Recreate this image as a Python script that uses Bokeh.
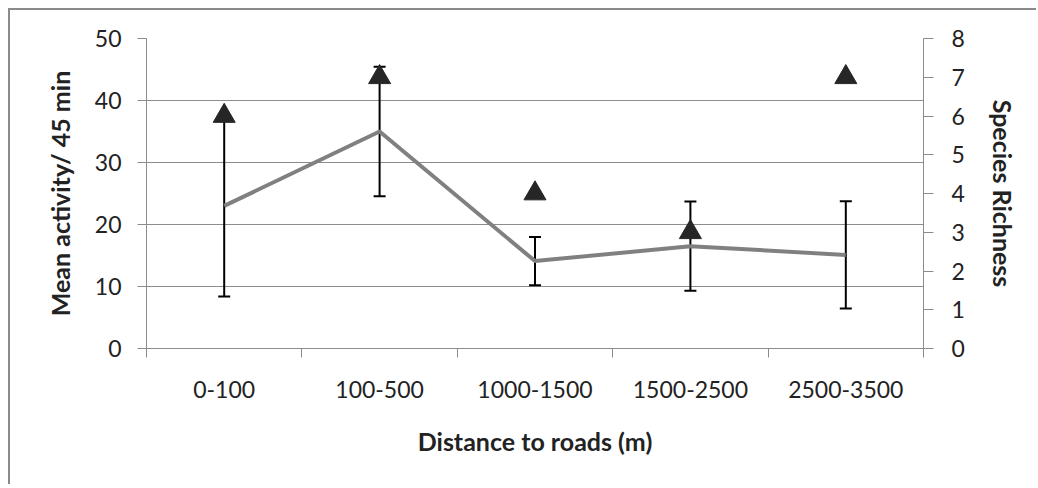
from bokeh.plotting import figure
from bokeh.models import Range1d, LinearAxis, FixedTicker, Whisker, ColumnDataSource, TeeHead
from bokeh.embed import file_html
from bokeh.resources import INLINE

categories = ["0-100", "100-500", "1000-1500", "1500-2500", "2500-3500"]
mean_activity = [23.0, 35.0, 14.1, 16.5, 15.1]
activity_err = [14.6, 10.45, 3.9, 7.2, 8.65]
species_richness = [6, 7, 4, 3, 7]

xs = [i + 0.5 for i in range(len(categories))]
src = ColumnDataSource(dict(
    x=xs,
    y=mean_activity,
    upper=[m + e for m, e in zip(mean_activity, activity_err)],
    lower=[m - e for m, e in zip(mean_activity, activity_err)],
    rich=species_richness,
))

FONT = "Lato"
TXT = "#222222"
GRID = "#8c8c8c"
TICK_FS = "23px"
TITLE_FS = "25px"

p = figure(
    frame_width=777, frame_height=310,
    min_border_left=136, min_border_right=113, min_border_top=28, min_border_bottom=136,
    x_range=Range1d(0, len(categories)), y_range=Range1d(0, 50),
    output_backend="svg", toolbar_location=None,
    styles={"margin-left": "8px", "margin-top": "8px",
            "border-left": "2px solid #8a8a8a", "border-top": "2px solid #8a8a8a"},
)
p.outline_line_color = None
p.background_fill_color = "white"
p.border_fill_color = "white"
p.xgrid.visible = False
p.ygrid.grid_line_color = GRID
p.ygrid.grid_line_width = 1
p.ygrid.ticker = FixedTicker(ticks=[0, 10, 20, 30, 40, 50])

p.extra_y_ranges = {"rich": Range1d(0, 8)}

# x axis
xa = p.xaxis[0]
xa.ticker = FixedTicker(ticks=xs, minor_ticks=list(range(len(categories) + 1)))
xa.major_label_overrides = {x: c for x, c in zip(xs, categories)}
xa.major_tick_out = 0
xa.major_tick_in = 0
xa.minor_tick_out = 9
xa.minor_tick_in = 0
xa.minor_tick_line_color = GRID
xa.axis_line_color = GRID
xa.major_label_text_font = FONT
xa.major_label_text_font_size = TICK_FS
xa.major_label_text_color = TXT
xa.major_label_standoff = 23
xa.axis_label = "Distance to roads (m)"
xa.axis_label_text_font = FONT
xa.axis_label_text_font_size = TITLE_FS
xa.axis_label_text_font_style = "bold"
xa.axis_label_text_color = TXT
xa.axis_label_standoff = 25

# left axis
ya = p.yaxis[0]
ya.ticker = FixedTicker(ticks=[0, 10, 20, 30, 40, 50])
ya.minor_tick_line_color = None
ya.major_tick_out = 9
ya.major_tick_in = 0
ya.major_tick_line_color = GRID
ya.axis_line_color = GRID
ya.major_label_text_font = FONT
ya.major_label_text_font_size = TICK_FS
ya.major_label_text_color = TXT
ya.major_label_standoff = 16
ya.axis_label = "Mean activity/ 45 min"
ya.axis_label_text_font = FONT
ya.axis_label_text_font_size = TITLE_FS
ya.axis_label_text_font_style = "bold"
ya.axis_label_text_color = TXT
ya.axis_label_standoff = 17

# right axis
ra = LinearAxis(y_range_name="rich", ticker=FixedTicker(ticks=list(range(9))))
ra.minor_tick_line_color = None
ra.major_tick_out = 10
ra.major_tick_in = 0
ra.major_tick_line_color = GRID
ra.axis_line_color = GRID
ra.major_label_text_font = FONT
ra.major_label_text_font_size = TICK_FS
ra.major_label_text_color = TXT
ra.major_label_standoff = 18
ra.axis_label = "Species Richness"
ra.axis_label_text_font = FONT
ra.axis_label_text_font_size = TITLE_FS
ra.axis_label_text_font_style = "bold"
ra.axis_label_text_color = TXT
ra.axis_label_standoff = 20
p.add_layout(ra, "right")

# line
p.line("x", "y", source=src, line_color="#808080", line_width=4)

# error bars
w = Whisker(base="x", upper="upper", lower="lower", source=src,
            line_color="black", line_width=2,
            upper_head=TeeHead(size=12, line_color="black", line_width=2),
            lower_head=TeeHead(size=12, line_color="black", line_width=2))
p.add_layout(w)

# species richness triangles
p.scatter("x", "rich", source=src, y_range_name="rich", marker="triangle",
          size=22, fill_color="#262626", line_color="#262626")

open("out.html", "w").write(file_html(p, INLINE))
